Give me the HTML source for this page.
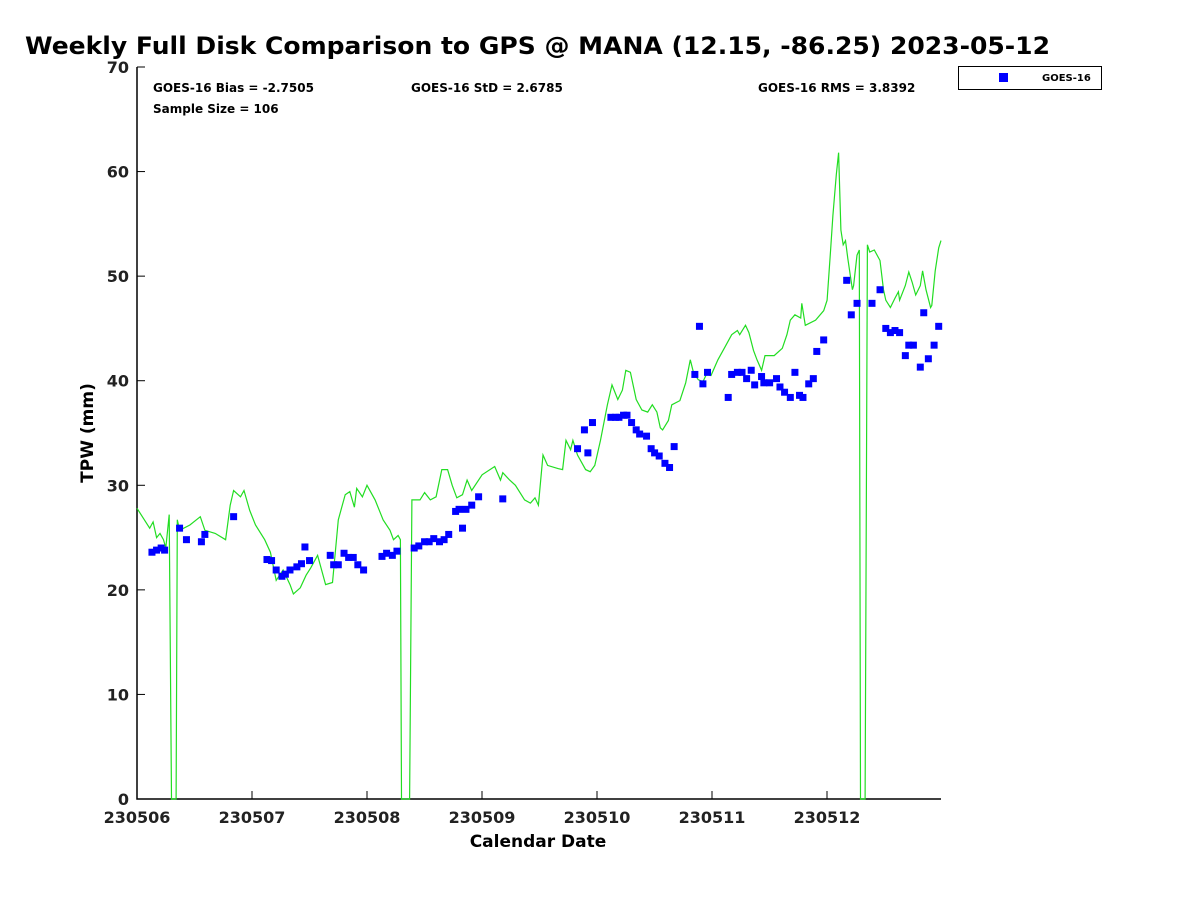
<!DOCTYPE html>
<html><head><meta charset="utf-8"><style>
html,body{margin:0;padding:0;background:#fff;}
svg{display:block;font-family:"DejaVu Sans","Liberation Sans",sans-serif;}
</style></head><body>
<svg id="chart" width="1200" height="900" viewBox="0 0 1200 900">
<text x="25" y="54" font-size="24" font-weight="bold" textLength="1025" lengthAdjust="spacingAndGlyphs">Weekly Full Disk Comparison to GPS @ MANA (12.15, -86.25) 2023-05-12</text>
<g id="axes"></g>
<g id="marks"></g>
<text x="153" y="92" font-size="12" font-weight="bold">GOES-16 Bias = -2.7505</text>
<text x="411" y="92" font-size="12" font-weight="bold">GOES-16 StD = 2.6785</text>
<text x="758" y="92" font-size="12" font-weight="bold">GOES-16 RMS = 3.8392</text>
<text x="153" y="113" font-size="12" font-weight="bold">Sample Size = 106</text>
<g>
<rect x="958.5" y="66.5" width="143" height="23" fill="#fff" stroke="#000" stroke-width="1"/>
<rect x="999" y="73" width="9" height="9" fill="#0000ff"/>
<text x="1042" y="81" font-size="10" font-weight="bold">GOES-16</text>
</g>
<text x="538" y="847" font-size="17" font-weight="bold" text-anchor="middle">Calendar Date</text>
<text transform="translate(93,433) rotate(-90)" font-size="17" font-weight="bold" text-anchor="middle">TPW (mm)</text>
</svg>
<script>
const xTickLabels=["230506","230507","230508","230509","230510","230511","230512"];
const yTickLabels=[0,10,20,30,40,50,60,70];
const gpsDays=[0.00,0.11,0.14,0.17,0.20,0.23,0.25,0.28,0.30,0.34,0.35,0.37,0.46,0.55,0.59,0.68,0.77,0.81,0.84,0.90,0.93,0.98,1.03,1.11,1.16,1.21,1.27,1.33,1.36,1.42,1.47,1.51,1.57,1.64,1.70,1.75,1.81,1.85,1.89,1.91,1.96,2.00,2.07,2.14,2.20,2.23,2.27,2.29,2.30,2.37,2.39,2.46,2.50,2.55,2.60,2.65,2.70,2.74,2.78,2.83,2.87,2.91,3.00,3.11,3.16,3.18,3.24,3.29,3.37,3.42,3.46,3.49,3.53,3.57,3.66,3.70,3.73,3.77,3.79,3.83,3.90,3.94,3.98,4.03,4.09,4.13,4.18,4.22,4.25,4.29,4.34,4.39,4.44,4.48,4.52,4.55,4.57,4.62,4.65,4.72,4.77,4.81,4.84,4.88,4.92,4.95,4.99,5.05,5.11,5.17,5.22,5.24,5.29,5.32,5.36,5.39,5.43,5.46,5.54,5.61,5.65,5.68,5.72,5.77,5.78,5.81,5.90,5.97,6.00,6.03,6.05,6.08,6.10,6.12,6.14,6.16,6.18,6.22,6.23,6.26,6.28,6.29,6.33,6.35,6.37,6.41,6.46,6.49,6.51,6.55,6.59,6.62,6.63,6.68,6.71,6.74,6.77,6.81,6.83,6.86,6.90,6.91,6.94,6.97,6.99];
const gpsTPW=[27.8,25.9,26.5,25.0,25.4,24.8,24.0,27.2,0,0,26.7,25.7,26.2,27.0,25.7,25.4,24.8,28.1,29.5,28.9,29.5,27.6,26.2,24.8,23.6,20.9,21.9,20.5,19.6,20.2,21.4,22.1,23.3,20.5,20.7,26.7,29.1,29.4,27.9,29.7,28.9,30.0,28.6,26.7,25.7,24.8,25.2,24.8,0,0,28.6,28.6,29.3,28.6,28.9,31.5,31.5,30.0,28.8,29.1,30.5,29.5,31.0,31.8,30.5,31.2,30.5,30.0,28.6,28.3,28.8,28.1,32.9,31.9,31.6,31.5,34.3,33.4,34.3,32.9,31.5,31.3,31.9,34.3,37.7,39.6,38.2,39.1,41.0,40.8,38.2,37.2,37.0,37.7,37.0,35.5,35.3,36.2,37.7,38.1,39.8,42.0,40.7,40.1,39.9,40.6,40.5,42.0,43.2,44.4,44.8,44.4,45.3,44.6,42.9,42.0,41.0,42.4,42.4,43.1,44.4,45.8,46.3,46.0,47.4,45.3,45.8,46.7,47.7,52.5,55.8,59.7,61.8,54.4,53.0,53.4,51.7,48.7,49.1,52.0,52.5,0,0,53.0,52.3,52.5,51.5,48.7,47.7,47.0,47.9,48.5,47.7,49.1,50.4,49.4,48.2,49.1,50.5,48.7,47.0,47.2,50.5,52.7,53.4];
const goesDays=[0.13,0.17,0.21,0.24,0.37,0.43,0.56,0.59,0.84,1.13,1.17,1.21,1.26,1.29,1.33,1.39,1.43,1.46,1.50,1.68,1.71,1.75,1.80,1.84,1.88,1.92,1.97,2.13,2.17,2.22,2.26,2.41,2.45,2.50,2.54,2.58,2.63,2.67,2.71,2.77,2.80,2.83,2.86,2.91,2.97,3.18,3.83,3.89,3.92,3.96,4.12,4.16,4.19,4.23,4.26,4.30,4.34,4.37,4.43,4.47,4.50,4.54,4.59,4.63,4.67,4.85,4.89,4.92,4.96,5.14,5.17,5.22,5.26,5.30,5.34,5.37,5.43,5.45,5.50,5.56,5.59,5.63,5.68,5.72,5.76,5.79,5.84,5.88,5.91,5.97,6.17,6.21,6.26,6.39,6.46,6.51,6.55,6.59,6.63,6.68,6.71,6.75,6.81,6.84,6.88,6.93,6.97];
const goesTPW=[23.6,23.8,24.0,23.8,25.9,24.8,24.6,25.3,27.0,22.9,22.8,21.9,21.3,21.5,21.9,22.2,22.5,24.1,22.8,23.3,22.4,22.4,23.5,23.1,23.1,22.4,21.9,23.2,23.5,23.3,23.7,24.0,24.2,24.6,24.6,24.9,24.6,24.8,25.3,27.5,27.7,25.9,27.7,28.1,28.9,28.7,33.5,35.3,33.1,36.0,36.5,36.5,36.5,36.7,36.7,36.0,35.3,34.9,34.7,33.5,33.1,32.8,32.1,31.7,33.7,40.6,45.2,39.7,40.8,38.4,40.6,40.8,40.8,40.2,41.0,39.6,40.4,39.8,39.8,40.2,39.4,38.9,38.4,40.8,38.6,38.4,39.7,40.2,42.8,43.9,49.6,46.3,47.4,47.4,48.7,45.0,44.6,44.8,44.6,42.4,43.4,43.4,41.3,46.5,42.1,43.4,45.2];

const L=137,R=941,T=67,B=799;
const xS=d=>L+d*(R-L)/6.99;
const yS=v=>B-v*(B-T)/70;
const NS="http://www.w3.org/2000/svg";
const axes=document.getElementById('axes'), marks=document.getElementById('marks');
function mk(tag,attrs,parent){const e=document.createElementNS(NS,tag);for(const k in attrs)e.setAttribute(k,attrs[k]);parent.appendChild(e);return e;}

const frame=mk('path',{d:`M${L},${T} L${L},${B} L${R},${B}`,fill:'none',stroke:'#000','stroke-width':1.5},axes);


yTickLabels.forEach(v=>{
  const y=yS(v);
  const t=mk('line',{x1:L,x2:L+8,y1:y,y2:y,stroke:'#000','stroke-width':1},axes);
  
  
  const tx=mk('text',{x:L-8,y:y+6,'font-size':16,'font-weight':'bold','text-anchor':'end',fill:'#222'},axes);
  tx.textContent=v;
  
  
});
xTickLabels.forEach((lab,i)=>{
  const x=L+i*115;
  const t=mk('line',{x1:x,x2:x,y1:B,y2:B-8,stroke:'#000','stroke-width':1},axes);
  
  
  const tx=mk('text',{x:x,y:B+24,'font-size':16,'font-weight':'bold','text-anchor':'middle',fill:'#222'},axes);
  tx.textContent=lab;
  
  
});
const pts=gpsDays.map((d,i)=>xS(d).toFixed(1)+','+yS(gpsTPW[i]).toFixed(1)).join(' ');
const line=mk('polyline',{points:pts,fill:'none',stroke:'#22dd22','stroke-width':1.2},marks);


goesDays.forEach((d,i)=>{
  const r=mk('rect',{x:xS(d)-3.5,y:yS(goesTPW[i])-3.5,width:7,height:7,fill:'#0000ff'},marks);
  
  
});
</script>
</body></html>
